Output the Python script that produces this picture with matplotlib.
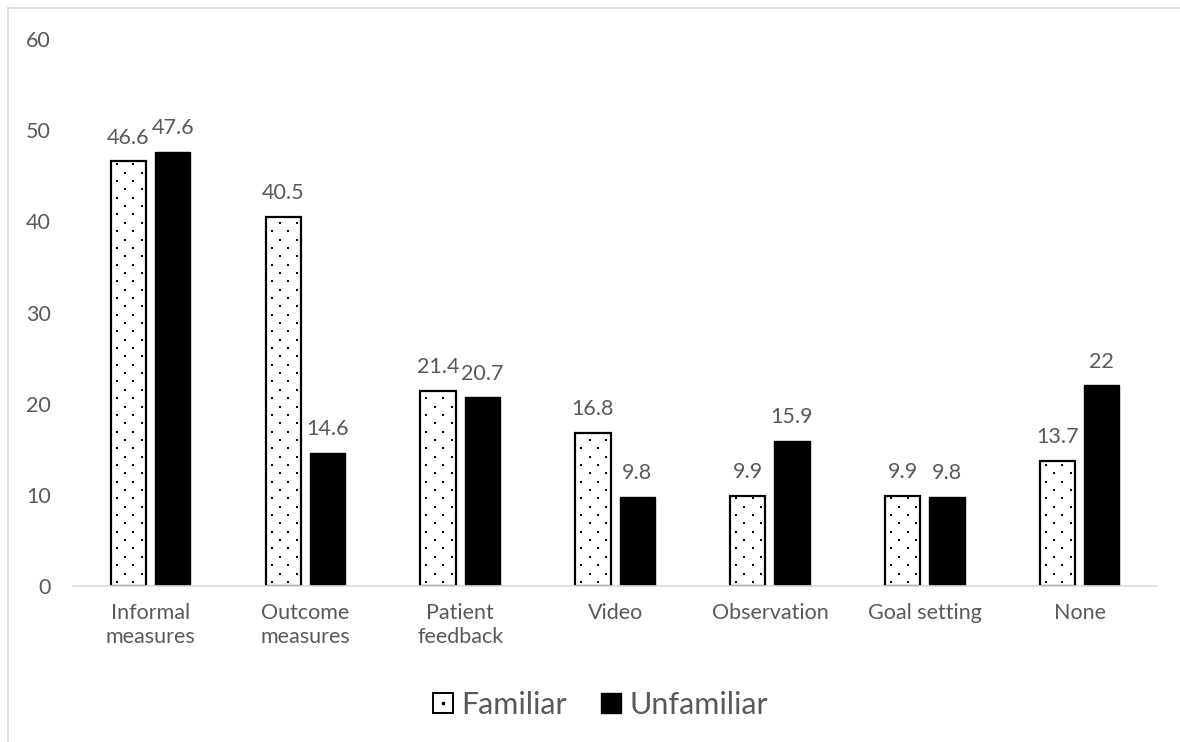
import numpy as np
import matplotlib.pyplot as plt
from matplotlib.lines import Line2D
from matplotlib.patches import Patch
from matplotlib.legend_handler import HandlerTuple

plt.rcParams['font.family'] = ['Lato', 'DejaVu Sans']

categories = ["Informal\nmeasures", "Outcome\nmeasures", "Patient\nfeedback", "Video",
              "Observation", "Goal setting", "None"]
familiar = [46.6, 40.5, 21.4, 16.8, 9.9, 9.9, 13.7]
unfamiliar = [47.6, 14.6, 20.7, 9.8, 15.9, 9.8, 22]
value_labels_fam = ["46.6", "40.5", "21.4", "16.8", "9.9", "9.9", "13.7"]
value_labels_unf = ["47.6", "14.6", "20.7", "9.8", "15.9", "9.8", "22"]

text_color = "#595959"
grid_color = "#d9d9d9"

fig = plt.figure(figsize=(11.8, 7.42), dpi=100)
ax = fig.add_axes([0.062, 0.2102, 0.9185, 0.7372])

x = np.arange(len(categories))
w = 0.228
off = 0.143

ax.set_ylim(0, 60)
ax.set_xlim(-0.5, len(categories) - 0.5)

bars_f = ax.bar(x - off, familiar, w, color="white", edgecolor="black",
                linewidth=1.6, zorder=2)
bars_u = ax.bar(x + off, unfamiliar, w, color="black", edgecolor="black",
                linewidth=1, zorder=2)

# dotted fill for the "Familiar" bars: staggered lattice in pixel space
inv = ax.transData.inverted()
step = 8.35
for b in bars_f:
    (px0, py0), (px1, py1) = ax.transData.transform(
        [(b.get_x(), 0), (b.get_x() + b.get_width(), b.get_height())])
    pts = []
    row = 0
    yy = py0 + step / 2
    while yy < py1:
        xx = px0 + 6 + (step if row % 2 else 0)
        while xx < px1 + 2:
            pts.append((xx, yy))
            xx += 2 * step
        yy += step
        row += 1
    pts = inv.transform(np.array(pts))
    sc = ax.scatter(pts[:, 0], pts[:, 1], s=2.2, color="black", marker="s",
                    linewidths=0, zorder=3)
    sc.set_clip_path(b)

for b, lab in zip(bars_f, value_labels_fam):
    ax.text(b.get_x() + b.get_width() / 2, b.get_height() + 1.5, lab,
            ha="center", va="bottom", fontsize=15.5, color=text_color)
for b, lab in zip(bars_u, value_labels_unf):
    ax.text(b.get_x() + b.get_width() / 2, b.get_height() + 1.5, lab,
            ha="center", va="bottom", fontsize=15.5, color=text_color)

ax.set_yticks(np.arange(0, 61, 10))
ax.set_xticks(x)
ax.set_xticklabels(categories, fontsize=15.5, color=text_color, linespacing=1.25)
ax.tick_params(axis="y", labelsize=15.5, labelcolor=text_color, length=0, pad=16)
ax.tick_params(axis="x", length=0, pad=12)

for s in ["top", "right", "left"]:
    ax.spines[s].set_visible(False)
ax.spines["bottom"].set_color(grid_color)
ax.spines["bottom"].set_linewidth(1.2)

fam_handle = (Patch(facecolor="white", edgecolor="black", linewidth=1.4),
              Line2D([], [], marker="s", markersize=1.8, color="black", linestyle="none"))
unf_handle = Patch(facecolor="black", edgecolor="black")
leg = fig.legend([fam_handle, unf_handle], ["Familiar", "Unfamiliar"], loc="center",
                 bbox_to_anchor=(0.509, 0.05), ncol=2, frameon=False,
                 fontsize=22, handlelength=0.65, handleheight=0.65,
                 handletextpad=0.3, columnspacing=1.1,
                 handler_map={tuple: HandlerTuple(ndivide=1)})
for t in leg.get_texts():
    t.set_color(text_color)

# chart border (left and top visible)
fig.add_artist(Line2D([0.007, 0.007], [0, 0.989], color=grid_color, lw=1.2,
                      transform=fig.transFigure))
fig.add_artist(Line2D([0.007, 1.0], [0.989, 0.989], color=grid_color, lw=1.2,
                      transform=fig.transFigure))

fig.savefig("out.png", dpi=100)
